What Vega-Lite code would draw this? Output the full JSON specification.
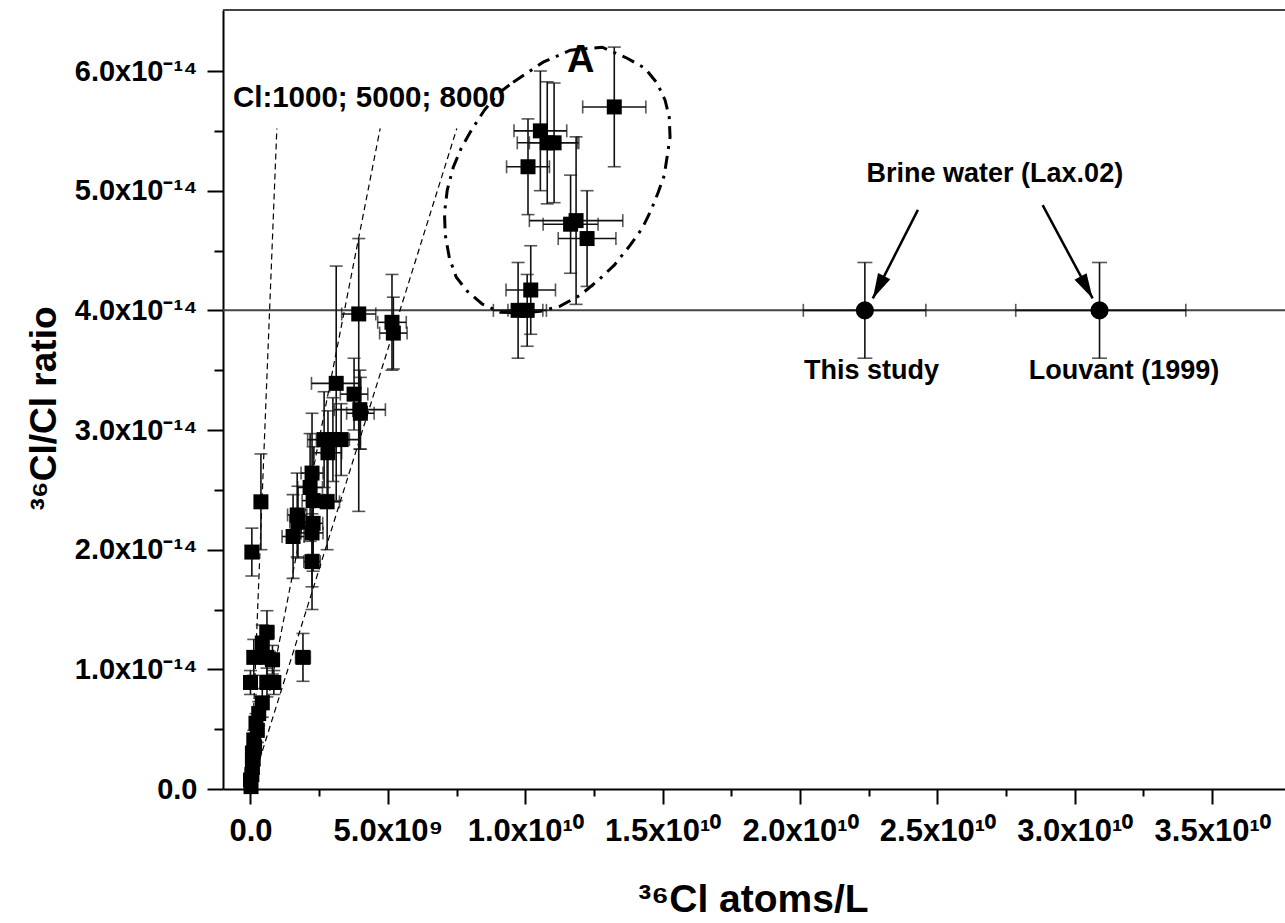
{
  "$schema": "https://vega.github.io/schema/vega-lite/v6.json",
  "width": 1062,
  "height": 779,
  "autosize": {"type": "none"},
  "padding": {"left": 223, "top": 10, "right": 0, "bottom": 134},
  "background": "white",
  "config": {"view": {"stroke": null}, "font": "Liberation Sans"},
  "datasets": {
    "one": [{}],
    "pts": [
      {"x":13.24e9,"y":5.70e-14,"xlo":12.09e9,"xhi":14.39e9,"ylo":5.20e-14,"yhi":6.20e-14},
      {"x":10.55e9,"y":5.50e-14,"xlo":9.59e9,"xhi":11.51e9,"ylo":5.00e-14,"yhi":6.00e-14},
      {"x":10.80e9,"y":5.40e-14,"xlo":9.71e9,"xhi":11.89e9,"ylo":4.89e-14,"yhi":5.91e-14},
      {"x":11.05e9,"y":5.40e-14,"xlo":10.15e9,"xhi":11.95e9,"ylo":4.90e-14,"yhi":5.90e-14},
      {"x":10.10e9,"y":5.20e-14,"xlo":9.32e9,"xhi":10.88e9,"ylo":4.80e-14,"yhi":5.60e-14},
      {"x":11.65e9,"y":4.72e-14,"xlo":10.65e9,"xhi":12.65e9,"ylo":4.31e-14,"yhi":5.13e-14},
      {"x":11.85e9,"y":4.75e-14,"xlo":10.15e9,"xhi":13.55e9,"ylo":4.05e-14,"yhi":5.45e-14},
      {"x":12.25e9,"y":4.60e-14,"xlo":11.20e9,"xhi":13.30e9,"ylo":4.20e-14,"yhi":5.00e-14},
      {"x":10.20e9,"y":4.17e-14,"xlo":9.30e9,"xhi":11.10e9,"ylo":3.80e-14,"yhi":4.54e-14},
      {"x":9.74e9,"y":4.00e-14,"xlo":8.84e9,"xhi":10.64e9,"ylo":3.60e-14,"yhi":4.40e-14},
      {"x":10.07e9,"y":4.00e-14,"xlo":9.37e9,"xhi":10.77e9,"ylo":3.70e-14,"yhi":4.30e-14},
      {"x":3.94e9,"y":3.97e-14,"xlo":3.32e9,"xhi":4.56e9,"ylo":2.32e-14,"yhi":4.60e-14},
      {"x":5.15e9,"y":3.90e-14,"xlo":4.63e9,"xhi":5.67e9,"ylo":3.50e-14,"yhi":4.30e-14},
      {"x":5.20e9,"y":3.81e-14,"xlo":4.70e9,"xhi":5.70e9,"ylo":3.51e-14,"yhi":4.11e-14},
      {"x":3.12e9,"y":3.39e-14,"xlo":2.22e9,"xhi":4.02e9,"ylo":2.41e-14,"yhi":4.37e-14},
      {"x":3.77e9,"y":3.30e-14,"xlo":3.27e9,"xhi":4.27e9,"ylo":3.00e-14,"yhi":3.60e-14},
      {"x":3.98e9,"y":3.17e-14,"xlo":3.05e9,"xhi":4.91e9,"ylo":2.84e-14,"yhi":3.50e-14},
      {"x":4.00e9,"y":3.14e-14,"xlo":3.50e9,"xhi":4.50e9,"ylo":2.84e-14,"yhi":3.44e-14},
      {"x":2.68e9,"y":2.92e-14,"xlo":2.08e9,"xhi":3.28e9,"ylo":2.52e-14,"yhi":3.32e-14},
      {"x":3.00e9,"y":2.92e-14,"xlo":2.40e9,"xhi":3.60e9,"ylo":2.57e-14,"yhi":3.27e-14},
      {"x":3.30e9,"y":2.92e-14,"xlo":2.60e9,"xhi":4.00e9,"ylo":2.62e-14,"yhi":3.22e-14},
      {"x":2.82e9,"y":2.81e-14,"xlo":2.32e9,"xhi":3.32e9,"ylo":2.46e-14,"yhi":3.16e-14},
      {"x":2.24e9,"y":2.64e-14,"xlo":1.84e9,"xhi":2.64e9,"ylo":2.14e-14,"yhi":3.14e-14},
      {"x":2.17e9,"y":2.52e-14,"xlo":1.72e9,"xhi":2.62e9,"ylo":2.07e-14,"yhi":2.97e-14},
      {"x":2.28e9,"y":2.41e-14,"xlo":1.88e9,"xhi":2.68e9,"ylo":1.96e-14,"yhi":2.86e-14},
      {"x":2.79e9,"y":2.40e-14,"xlo":2.34e9,"xhi":3.24e9,"ylo":2.00e-14,"yhi":2.80e-14},
      {"x":1.70e9,"y":2.29e-14,"xlo":1.35e9,"xhi":2.05e9,"ylo":1.94e-14,"yhi":2.64e-14},
      {"x":1.73e9,"y":2.23e-14,"xlo":1.43e9,"xhi":2.03e9,"ylo":1.93e-14,"yhi":2.53e-14},
      {"x":1.55e9,"y":2.11e-14,"xlo":1.15e9,"xhi":1.95e9,"ylo":1.76e-14,"yhi":2.46e-14},
      {"x":2.24e9,"y":2.14e-14,"xlo":1.84e9,"xhi":2.64e9,"ylo":1.69e-14,"yhi":2.59e-14},
      {"x":2.28e9,"y":2.22e-14,"xlo":1.93e9,"xhi":2.63e9,"ylo":1.82e-14,"yhi":2.62e-14},
      {"x":2.24e9,"y":1.90e-14,"xlo":1.94e9,"xhi":2.54e9,"ylo":1.50e-14,"yhi":2.30e-14},
      {"x":1.91e9,"y":1.10e-14,"xlo":1.64e9,"xhi":2.18e9,"ylo":0.90e-14,"yhi":1.30e-14},
      {"x":0.38e9,"y":2.40e-14,"xlo":0.23e9,"xhi":0.53e9,"ylo":2.00e-14,"yhi":2.80e-14},
      {"x":0.05e9,"y":1.98e-14,"xlo":-0.10e9,"xhi":0.20e9,"ylo":1.78e-14,"yhi":2.18e-14},
      {"x":0.60e9,"y":1.31e-14,"xlo":0.35e9,"xhi":0.85e9,"ylo":1.13e-14,"yhi":1.49e-14},
      {"x":0.43e9,"y":1.22e-14,"xlo":0.23e9,"xhi":0.63e9,"ylo":1.07e-14,"yhi":1.37e-14},
      {"x":0.12e9,"y":1.10e-14,"xlo":-0.03e9,"xhi":0.27e9,"ylo":0.95e-14,"yhi":1.25e-14},
      {"x":0.60e9,"y":1.10e-14,"xlo":0.30e9,"xhi":0.90e9,"ylo":0.95e-14,"yhi":1.25e-14},
      {"x":0.80e9,"y":1.08e-14,"xlo":0.55e9,"xhi":1.05e9,"ylo":0.96e-14,"yhi":1.20e-14},
      {"x":0.00e9,"y":0.89e-14,"xlo":-0.10e9,"xhi":0.10e9,"ylo":0.79e-14,"yhi":0.99e-14},
      {"x":0.60e9,"y":0.89e-14,"xlo":0.35e9,"xhi":0.85e9,"ylo":0.77e-14,"yhi":1.01e-14},
      {"x":0.85e9,"y":0.89e-14,"xlo":0.65e9,"xhi":1.05e9,"ylo":0.79e-14,"yhi":0.99e-14},
      {"x":0.43e9,"y":0.72e-14,"xlo":0.23e9,"xhi":0.63e9,"ylo":0.60e-14,"yhi":0.84e-14},
      {"x":0.30e9,"y":0.63e-14,"xlo":0.15e9,"xhi":0.45e9,"ylo":0.53e-14,"yhi":0.73e-14},
      {"x":0.25e9,"y":0.49e-14,"xlo":0.10e9,"xhi":0.40e9,"ylo":0.39e-14,"yhi":0.59e-14},
      {"x":0.12e9,"y":0.41e-14,"xlo":0.02e9,"xhi":0.22e9,"ylo":0.33e-14,"yhi":0.49e-14},
      {"x":0.20e9,"y":0.55e-14,"xlo":0.10e9,"xhi":0.30e9,"ylo":0.47e-14,"yhi":0.63e-14},
      {"x":0.07e9,"y":0.30e-14,"xlo":-0.03e9,"xhi":0.17e9,"ylo":0.24e-14,"yhi":0.36e-14},
      {"x":0.15e9,"y":0.35e-14,"xlo":0.05e9,"xhi":0.25e9,"ylo":0.29e-14,"yhi":0.41e-14},
      {"x":0.07e9,"y":0.18e-14,"xlo":-0.01e9,"xhi":0.15e9,"ylo":0.13e-14,"yhi":0.23e-14},
      {"x":0.10e9,"y":0.25e-14,"xlo":0.02e9,"xhi":0.18e9,"ylo":0.20e-14,"yhi":0.30e-14},
      {"x":0.00e9,"y":0.075e-14,"xlo":-0.05e9,"xhi":0.05e9,"ylo":0.045e-14,"yhi":0.105e-14},
      {"x":0.05e9,"y":0.12e-14,"xlo":0.00e9,"xhi":0.10e9,"ylo":0.09e-14,"yhi":0.15e-14},
      {"x":0.02e9,"y":0.02e-14,"xlo":-0.03e9,"xhi":0.07e9,"ylo":0.00e-14,"yhi":0.04e-14}
    ],
    "brine": [
      {"name":"This study","x":22.36e9,"y":4.0e-14,"xlo":20.12e9,"xhi":24.58e9,"ylo":3.6e-14,"yhi":4.4e-14},
      {"name":"Louvant (1999)","x":30.90e9,"y":4.0e-14,"xlo":27.85e9,"xhi":34.04e9,"ylo":3.6e-14,"yhi":4.4e-14}
    ],
    "cl": [
      {"c":"1000","x":0,"y":0},{"c":"1000","x":0.96e9,"y":5.52e-14},
      {"c":"5000","x":0,"y":0},{"c":"5000","x":4.72e9,"y":5.52e-14},
      {"c":"8000","x":0,"y":0},{"c":"8000","x":7.51e9,"y":5.52e-14}
    ],
    "ellipse": [
      {"i":0,"x":9.56e9,"y":5.906e-14},{"i":1,"x":10.65e9,"y":6.074e-14},{"i":2,"x":11.64e9,"y":6.174e-14},
      {"i":3,"x":12.80e9,"y":6.199e-14},{"i":4,"x":13.71e9,"y":6.107e-14},{"i":5,"x":14.36e9,"y":6.023e-14},
      {"i":6,"x":14.80e9,"y":5.898e-14},{"i":7,"x":15.09e9,"y":5.756e-14},{"i":8,"x":15.24e9,"y":5.614e-14},
      {"i":9,"x":15.27e9,"y":5.447e-14},{"i":10,"x":15.16e9,"y":5.280e-14},{"i":11,"x":15.06e9,"y":5.129e-14},
      {"i":12,"x":14.84e9,"y":4.987e-14},{"i":13,"x":14.58e9,"y":4.837e-14},{"i":14,"x":14.26e9,"y":4.687e-14},
      {"i":15,"x":13.82e9,"y":4.545e-14},{"i":16,"x":13.24e9,"y":4.378e-14},{"i":17,"x":12.66e9,"y":4.252e-14},
      {"i":18,"x":12.00e9,"y":4.127e-14},{"i":19,"x":11.27e9,"y":4.035e-14},{"i":20,"x":10.55e9,"y":3.993e-14},
      {"i":21,"x":9.82e9,"y":3.977e-14},{"i":22,"x":9.09e9,"y":3.985e-14},{"i":23,"x":8.44e9,"y":4.052e-14},
      {"i":24,"x":7.89e9,"y":4.160e-14},{"i":25,"x":7.49e9,"y":4.277e-14},{"i":26,"x":7.24e9,"y":4.436e-14},
      {"i":27,"x":7.09e9,"y":4.628e-14},{"i":28,"x":7.06e9,"y":4.812e-14},{"i":29,"x":7.16e9,"y":5.004e-14},
      {"i":30,"x":7.38e9,"y":5.196e-14},{"i":31,"x":7.67e9,"y":5.355e-14},{"i":32,"x":8.04e9,"y":5.505e-14},
      {"i":33,"x":8.51e9,"y":5.672e-14},{"i":34,"x":8.98e9,"y":5.806e-14},{"i":35,"x":9.56e9,"y":5.906e-14}
    ],
    "arrows": [
      {"k":1,"x":24.29e9,"y":4.84e-14,"x2":22.65e9,"y2":4.10e-14},
      {"k":2,"x":28.83e9,"y":4.88e-14,"x2":30.65e9,"y2":4.10e-14}
    ],
    "noteCl": [{"x":-0.64e9,"y":5.70e-14,"t":"Cl:1000; 5000; 8000"}],
    "noteA": [{"x":12.02e9,"y":5.99e-14,"t":"A"}],
    "noteBrine": [{"x":27.09e9,"y":5.07e-14,"t":"Brine water (Lax.02)"}],
    "noteSrc": [
      {"x":22.60e9,"y":3.43e-14,"t":"This study"},
      {"x":31.79e9,"y":3.43e-14,"t":"Louvant (1999)"}
    ]
  },
  "layer": [
    {
      "data": {"name": "one"},
      "mark": {"type": "rule", "color": "#444", "strokeWidth": 2},
      "encoding": {"y": {"datum": 4e-14, "type": "quantitative", "title": "³⁶Cl/Cl ratio"}}
    },
    {
      "data": {"name": "one"},
      "mark": {"type": "rule", "color": "#444", "strokeWidth": 2},
      "encoding": {"y": {"datum": 6.51e-14, "type": "quantitative", "title": "³⁶Cl/Cl ratio"}}
    },
    {
      "data": {"name": "cl"},
      "mark": {"type": "line", "color": "#000", "strokeWidth": 1.2, "strokeDash": [6, 4]},
      "encoding": {
        "x": {"field": "x", "type": "quantitative", "title": "³⁶Cl atoms/L"},
        "y": {"field": "y", "type": "quantitative", "title": "³⁶Cl/Cl ratio"},
        "detail": {"field": "c"}
      }
    },
    {
      "data": {"name": "ellipse"},
      "mark": {"type": "line", "color": "#000", "strokeWidth": 3, "strokeDash": [13, 7, 3, 7]},
      "encoding": {
        "x": {"field": "x", "type": "quantitative", "title": "³⁶Cl atoms/L"},
        "y": {"field": "y", "type": "quantitative", "title": "³⁶Cl/Cl ratio"},
        "order": {"field": "i", "type": "quantitative"}
      }
    },
    {
      "data": {"name": "pts"},
      "mark": {"type": "errorbar", "color": "#111", "ticks": {"size": 13, "thickness": 1.6}, "rule": {"strokeWidth": 1.6}},
      "encoding": {
        "x": {"field": "x", "type": "quantitative", "title": "³⁶Cl atoms/L"},
        "y": {"field": "ylo", "type": "quantitative", "title": "³⁶Cl/Cl ratio"},
        "y2": {"field": "yhi", "title": "³⁶Cl/Cl ratio"}
      }
    },
    {
      "data": {"name": "pts"},
      "mark": {"type": "errorbar", "color": "#111", "ticks": {"size": 13, "thickness": 1.6}, "rule": {"strokeWidth": 1.6}},
      "encoding": {
        "y": {"field": "y", "type": "quantitative", "title": "³⁶Cl/Cl ratio"},
        "x": {"field": "xlo", "type": "quantitative", "title": "³⁶Cl atoms/L"},
        "x2": {"field": "xhi", "title": "³⁶Cl atoms/L"}
      }
    },
    {
      "data": {"name": "pts"},
      "mark": {"type": "point", "shape": "square", "filled": true, "size": 225, "color": "#000", "opacity": 1},
      "encoding": {
        "x": {
          "field": "x", "type": "quantitative", "title": "³⁶Cl atoms/L",
          "scale": {"domain": [-1e9, 3.765e10], "nice": false, "zero": false},
          "axis": {
            "title": "³⁶Cl atoms/L",
            "values": [0, 2.5e9, 5e9, 7.5e9, 1e10, 1.25e10, 1.5e10, 1.75e10, 2e10, 2.25e10, 2.5e10, 2.75e10, 3e10, 3.25e10, 3.5e10],
            "labelExpr": "round(datum.value/2.5e9) % 2 == 0 ? (datum.value == 0 ? '0.0' : (datum.value < 1e10 ? format(datum.value/1e9, '.1f') + 'x10⁹' : format(datum.value/1e10, '.1f') + 'x10¹⁰')) : ''",
            "tickSize": {"condition": {"test": "round(datum.value/2.5e9) % 2 == 0", "value": 15}, "value": 7},
            "tickWidth": 2, "tickColor": "#000",
            "domainColor": "#000", "domainWidth": 2,
            "grid": false, "labelOverlap": false, "labelFlush": false,
            "labelFont": "Liberation Sans", "labelFontWeight": "bold", "labelFontSize": 31, "labelColor": "#000",
            "labelPadding": 12,
            "titleFont": "Liberation Sans", "titleFontWeight": "bold", "titleFontSize": 39, "titleColor": "#000",
            "titleX": 530, "titleY": 122, "titleAlign": "center", "titleBaseline": "alphabetic"
          }
        },
        "y": {
          "field": "y", "type": "quantitative", "title": "³⁶Cl/Cl ratio",
          "scale": {"domain": [0, 6.51e-14], "nice": false, "zero": false},
          "axis": {
            "title": "³⁶Cl/Cl ratio",
            "values": [0, 5e-15, 1e-14, 1.5e-14, 2e-14, 2.5e-14, 3e-14, 3.5e-14, 4e-14, 4.5e-14, 5e-14, 5.5e-14, 6e-14],
            "labelExpr": "round(datum.value*2e14) % 2 == 0 ? (datum.value == 0 ? '0.0' : format(datum.value*1e14, '.1f') + 'x10⁻¹⁴') : ''",
            "tickSize": {"condition": {"test": "round(datum.value*2e14) % 2 == 0", "value": 16}, "value": 9},
            "tickWidth": 2, "tickColor": "#000",
            "domainColor": "#000", "domainWidth": 2,
            "grid": false, "labelOverlap": false, "labelFlush": false,
            "labelFont": "Liberation Sans", "labelFontWeight": "bold", "labelFontSize": 29, "labelColor": "#000",
            "labelPadding": 10,
            "titleFont": "Liberation Sans", "titleFontWeight": "bold", "titleFontSize": 37, "titleColor": "#000",
            "titleX": -168, "titleY": 398, "titleAlign": "center", "titleBaseline": "alphabetic", "titleAngle": -90
          }
        }
      }
    },
    {
      "data": {"name": "brine"},
      "mark": {"type": "errorbar", "color": "#111", "ticks": {"size": 15, "thickness": 1.6}, "rule": {"strokeWidth": 1.6}},
      "encoding": {
        "x": {"field": "x", "type": "quantitative", "title": "³⁶Cl atoms/L"},
        "y": {"field": "ylo", "type": "quantitative", "title": "³⁶Cl/Cl ratio"},
        "y2": {"field": "yhi", "title": "³⁶Cl/Cl ratio"}
      }
    },
    {
      "data": {"name": "brine"},
      "mark": {"type": "errorbar", "color": "#111", "ticks": {"size": 13, "thickness": 1.6}, "rule": {"strokeWidth": 1.6}},
      "encoding": {
        "y": {"field": "y", "type": "quantitative", "title": "³⁶Cl/Cl ratio"},
        "x": {"field": "xlo", "type": "quantitative", "title": "³⁶Cl atoms/L"},
        "x2": {"field": "xhi", "title": "³⁶Cl atoms/L"}
      }
    },
    {
      "data": {"name": "brine"},
      "mark": {"type": "point", "shape": "circle", "filled": true, "size": 330, "color": "#000", "opacity": 1},
      "encoding": {
        "x": {"field": "x", "type": "quantitative", "title": "³⁶Cl atoms/L"},
        "y": {"field": "y", "type": "quantitative", "title": "³⁶Cl/Cl ratio"}
      }
    },
    {
      "data": {"name": "arrows"},
      "mark": {"type": "rule", "color": "#000", "strokeWidth": 2.5},
      "encoding": {
        "x": {"field": "x", "type": "quantitative", "title": "³⁶Cl atoms/L"},
        "y": {"field": "y", "type": "quantitative", "title": "³⁶Cl/Cl ratio"},
        "x2": {"field": "x2", "title": "³⁶Cl atoms/L"},
        "y2": {"field": "y2", "title": "³⁶Cl/Cl ratio"}
      }
    },
    {
      "data": {"name": "arrows"},
      "transform": [{"filter": "datum.k == 1"}],
      "mark": {"type": "point", "shape": "M0,0L0.55,2L-0.55,2Z", "filled": true, "size": 625, "color": "#000", "opacity": 1, "angle": 207},
      "encoding": {
        "x": {"field": "x2", "type": "quantitative", "title": "³⁶Cl atoms/L"},
        "y": {"field": "y2", "type": "quantitative", "title": "³⁶Cl/Cl ratio"}
      }
    },
    {
      "data": {"name": "arrows"},
      "transform": [{"filter": "datum.k == 2"}],
      "mark": {"type": "point", "shape": "M0,0L0.55,2L-0.55,2Z", "filled": true, "size": 625, "color": "#000", "opacity": 1, "angle": 151},
      "encoding": {
        "x": {"field": "x2", "type": "quantitative", "title": "³⁶Cl atoms/L"},
        "y": {"field": "y2", "type": "quantitative", "title": "³⁶Cl/Cl ratio"}
      }
    },
    {
      "data": {"name": "noteCl"},
      "mark": {"type": "text", "font": "Liberation Sans", "fontWeight": "bold", "fontSize": 29.5, "align": "left", "baseline": "alphabetic", "color": "#000"},
      "encoding": {
        "x": {"field": "x", "type": "quantitative", "title": "³⁶Cl atoms/L"},
        "y": {"field": "y", "type": "quantitative", "title": "³⁶Cl/Cl ratio"},
        "text": {"field": "t"}
      }
    },
    {
      "data": {"name": "noteA"},
      "mark": {"type": "text", "font": "Liberation Sans", "fontWeight": "bold", "fontSize": 38, "align": "center", "baseline": "alphabetic", "color": "#000"},
      "encoding": {
        "x": {"field": "x", "type": "quantitative", "title": "³⁶Cl atoms/L"},
        "y": {"field": "y", "type": "quantitative", "title": "³⁶Cl/Cl ratio"},
        "text": {"field": "t"}
      }
    },
    {
      "data": {"name": "noteBrine"},
      "mark": {"type": "text", "font": "Liberation Sans", "fontWeight": "bold", "fontSize": 27, "align": "center", "baseline": "alphabetic", "color": "#000"},
      "encoding": {
        "x": {"field": "x", "type": "quantitative", "title": "³⁶Cl atoms/L"},
        "y": {"field": "y", "type": "quantitative", "title": "³⁶Cl/Cl ratio"},
        "text": {"field": "t"}
      }
    },
    {
      "data": {"name": "noteSrc"},
      "mark": {"type": "text", "font": "Liberation Sans", "fontWeight": "bold", "fontSize": 27, "align": "center", "baseline": "alphabetic", "color": "#000"},
      "encoding": {
        "x": {"field": "x", "type": "quantitative", "title": "³⁶Cl atoms/L"},
        "y": {"field": "y", "type": "quantitative", "title": "³⁶Cl/Cl ratio"},
        "text": {"field": "t"}
      }
    }
  ]
}
